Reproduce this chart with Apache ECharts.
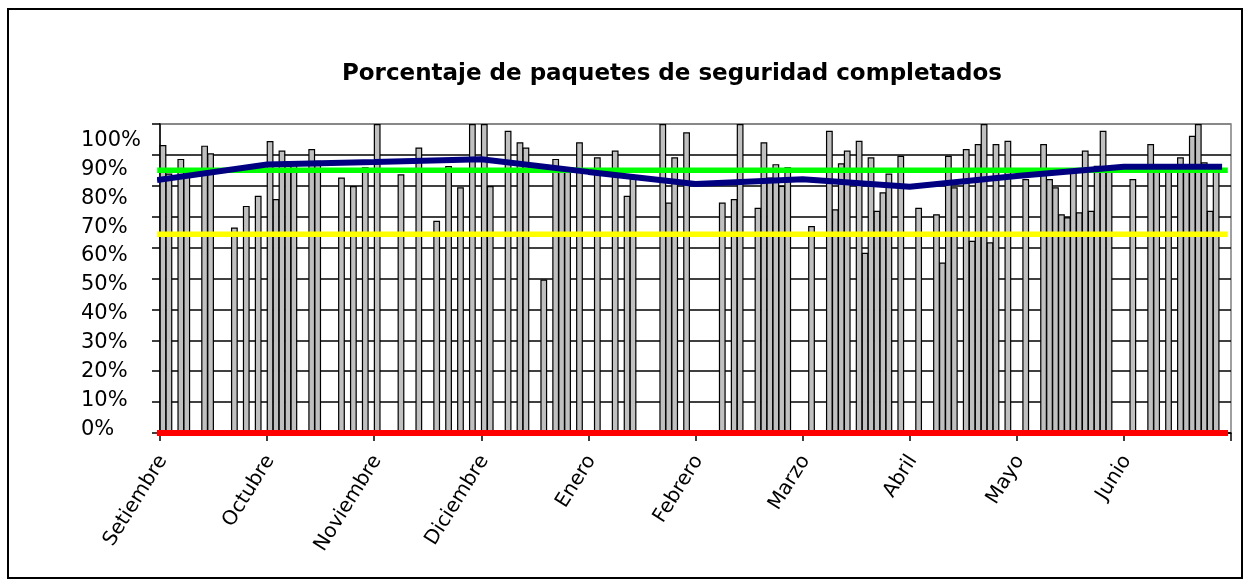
<!DOCTYPE html>
<html>
<head>
    <meta charset="UTF-8">
    <title>Porcentaje de paquetes de seguridad completados</title>
    <style>
        html, body { margin: 0; padding: 0; background: #fff; }
    </style>
</head>
<body>
<div id="main" style="width:1250px; height:585px;"></div>

<script type="text/javascript" src="https://cdn.jsdelivr.net/npm/echarts@6/dist/echarts.min.js"></script>
<script type="text/javascript">

    // meses del eje x (una etiqueta cada 18 posiciones)
    var monthNames = ['Setiembre', 'Octubre', 'Noviembre', 'Diciembre', 'Enero',
                      'Febrero', 'Marzo', 'Abril', 'Mayo', 'Junio'];
    var slotsPerMonth = 18;

    // barras: posicion en el eje y porcentaje completado
    var barSlots = [0, 1, 3, 4, 7, 8, 12, 14, 16, 18, 19, 20, 21, 22, 25, 26,
                    30, 32, 34, 36, 40, 43, 46, 48, 50, 52, 54, 55,
                    58, 60, 61, 64, 66, 67, 68, 70, 73, 76, 78, 79,
                    84, 85, 86, 88, 94, 96, 97, 100, 101, 102, 103, 104, 105, 109,
                    112, 113, 114, 115, 117, 118, 119, 120, 121, 122, 124,
                    127, 130, 131, 132, 133, 135, 136, 137, 138, 139, 140, 142,
                    145, 148, 149, 150, 151, 152, 153, 154, 155, 156, 157, 158, 159,
                    163, 166, 167, 169, 171, 172, 173, 174, 175, 176, 177];
    var barValues = [93.2, 84, 88.7, 84, 93, 90.5, 66.5, 73.5, 76.8, 94.5, 75.7, 91.4, 87.8, 87.8, 91.9, 88.1,
                     82.7, 79.9, 86, 100, 83.7, 92.4, 68.7, 86.4, 79.5, 100, 100, 79.9,
                     97.8, 94.1, 92.4, 49.7, 88.7, 86, 86, 94.1, 89.2, 91.4, 76.8, 82.4,
                     100, 74.6, 89.2, 97.3, 74.6, 75.7, 100, 72.9, 94.1, 82.7, 87, 80, 86, 67,
                     97.8, 72.4, 87.3, 91.4, 94.6, 58.3, 89.2, 71.9, 77.9, 84, 89.7,
                     72.9, 70.8, 55.2, 89.7, 79.5, 91.9, 62.2, 93.5, 100, 61.7, 93.5, 94.6,
                     82.2, 93.5, 82.2, 79.5, 70.8, 69.8, 84.6, 71.4, 91.4, 71.9, 86.5, 97.8, 86,
                     82.2, 93.5, 84.6, 84.6, 89.2, 86, 96.2, 100, 87.6, 71.9, 86];

    // promedio mensual (linea azul)
    var trendX = [0, 18, 36, 54, 72, 90, 108, 126, 144, 162, 178];
    var trendValues = [82.0, 86.9, 87.7, 88.6, 84.5, 80.6, 82.1, 79.7, 83.2, 86.2, 86.2];

    // lineas de referencia
    var metaAlta = 85;
    var metaBaja = 64.3;
    var lineaCero = 0;
    var refX = [0, 179];

    var yTickValues = [0, 10, 20, 30, 40, 50, 60, 70, 80, 90, 100];

    // armar datos para la libreria
    var slotCount = monthNames.length * slotsPerMonth;
    var categories = [];
    var barData = [];
    for (var i = 0; i < slotCount; i++) {
        categories.push(String(i));
        barData.push('-');
    }
    for (var j = 0; j < barSlots.length; j++) {
        barData[barSlots[j]] = barValues[j];
    }
    function refLine(v) {
        return refX.map(function (x) { return [x, v]; });
    }
    var trendData = trendX.map(function (x, k) { return [x, trendValues[k]]; });

    var gridColors = [];
    for (var g = 0; g < yTickValues.length - 1; g++) gridColors.push('#000');
    gridColors.push('#808080');

    var myChart = echarts.init(document.getElementById('main'));

    var option = {
        animation: false,
        backgroundColor: '#fff',
        title: {
            text: 'Porcentaje de paquetes de seguridad completados',
            left: 667,
            top: 58,
            textAlign: 'center',
            textStyle: {
                fontFamily: 'DejaVu Sans',
                fontWeight: 'bold',
                fontSize: 23,
                color: '#000'
            }
        },
        graphic: [{
            type: 'rect',
            shape: { x: 8, y: 9, width: 1234, height: 569 },
            style: { fill: 'none', stroke: '#000', lineWidth: 2 },
            silent: true
        }],
        grid: {
            left: 160, right: 19, top: 124, bottom: 152,
            show: true,
            borderColor: '#808080',
            borderWidth: 1.5,
            backgroundColor: 'transparent'
        },
        xAxis: [{
            type: 'category',
            data: categories,
            boundaryGap: true,
            axisLine: { show: true, lineStyle: { color: '#000', width: 1.5 } },
            axisTick: { show: true, interval: slotsPerMonth - 1, length: 8, lineStyle: { color: '#000', width: 1.5 } },
            axisLabel: {
                interval: slotsPerMonth - 1,
                rotate: 58,
                margin: 24,
                fontFamily: 'DejaVu Sans',
                fontSize: 20,
                color: '#000',
                formatter: function (v, idx) {
                    return monthNames[Math.floor(idx / slotsPerMonth)] || '';
                }
            },
            splitLine: { show: false }
        }, {
            type: 'value',
            min: 0,
            max: slotCount,
            show: false
        }],
        yAxis: [{
            type: 'value',
            min: 0,
            max: 100,
            interval: 10,
            axisLine: { show: true, lineStyle: { color: '#000', width: 1.5 } },
            axisTick: { show: true, length: 8, lineStyle: { color: '#000', width: 1.5 } },
            axisLabel: { show: false },
            splitLine: { show: true, lineStyle: { color: gridColors, width: 1.5 } }
        }, {
            // solo las etiquetas, como las dibuja el original
            type: 'value',
            position: 'left',
            min: -1.176,
            max: 105.64,
            axisLine: { show: false },
            axisTick: { show: false },
            splitLine: { show: false },
            axisLabel: {
                customValues: yTickValues,
                formatter: '{value}%',
                align: 'left',
                margin: 79,
                fontFamily: 'DejaVu Sans',
                fontSize: 21,
                color: '#000'
            }
        }],
        series: [
            {
                name: 'Completado',
                type: 'bar',
                xAxisIndex: 0,
                yAxisIndex: 0,
                data: barData,
                barWidth: 6.8,
                itemStyle: { color: '#c0c0c0', borderColor: '#000', borderWidth: 1.2 },
                z: 2
            },
            {
                name: 'Cero',
                type: 'line',
                xAxisIndex: 1,
                yAxisIndex: 0,
                data: refLine(lineaCero),
                symbol: 'none',
                clip: false,
                lineStyle: { color: '#ff0000', width: 6, cap: 'square' },
                z: 5
            },
            {
                name: 'Minimo',
                type: 'line',
                xAxisIndex: 1,
                yAxisIndex: 0,
                data: refLine(metaBaja),
                symbol: 'none',
                clip: false,
                lineStyle: { color: '#ffff00', width: 5.5, cap: 'square' },
                z: 5
            },
            {
                name: 'Meta',
                type: 'line',
                xAxisIndex: 1,
                yAxisIndex: 0,
                data: refLine(metaAlta),
                symbol: 'none',
                clip: false,
                lineStyle: { color: '#00ff00', width: 5.5, cap: 'square' },
                z: 5
            },
            {
                name: 'Promedio',
                type: 'line',
                xAxisIndex: 1,
                yAxisIndex: 0,
                data: trendData,
                symbol: 'none',
                clip: false,
                lineStyle: { color: '#000080', width: 6, cap: 'square' },
                z: 6
            }
        ]
    };

    myChart.setOption(option);

</script>
</body>
</html>
